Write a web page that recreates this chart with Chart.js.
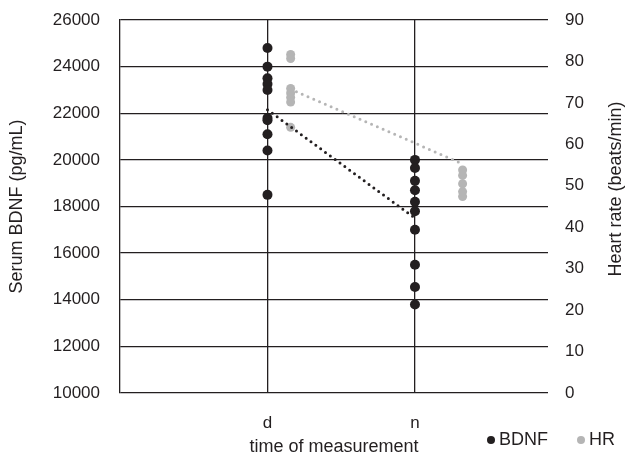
<!DOCTYPE html>
<html>
<head>
<meta charset="utf-8">
<script src="https://cdn.jsdelivr.net/npm/chart.js@4/dist/chart.umd.min.js"></script>
<style>
html,body{margin:0;padding:0;background:#fff;}
#wrap{width:625px;height:454px;position:relative;}
</style>
</head>
<body>
<div id="wrap"><canvas id="c" width="625" height="454"></canvas></div>
<script>
// ---- data ----
const timeLabels = ['d', 'n'];
const timeValues = [1, 2];
const hrTimeValues = [1.157, 2.323];
const bdnfDay = [24800, 24000, 23500, 23250, 23000, 21800, 21700, 21100, 20400, 18500];
const bdnfNight = [20000, 19650, 19100, 18700, 18200, 17800, 17000, 15500, 14550, 13800];
const hrDay = [81.7, 80.7, 73.5, 72.4, 71.3, 70.2, 64.1];
const hrNight = [53.8, 52.5, 50.5, 48.6, 47.4];
const bdnfMeans = [22150, 17500];
const hrMeans = [73.3, 55.3];
const bdnfTicks = [10000, 12000, 14000, 16000, 18000, 20000, 22000, 24000, 26000];
const hrTicks = [0, 10, 20, 30, 40, 50, 60, 70, 80, 90];
const seriesNames = ['BDNF', 'HR'];
const xTitle = 'time of measurement';
const yTitle = 'Serum BDNF (pg/mL)';
const y1Title = 'Heart rate (beats/min)';

// ---- styles ----
const INK = '#231f20';
const GREY = '#b5b5b5';
const FONT = '"Liberation Sans", Arial, sans-serif';

const pts = (xs, ys) => ys.map(v => ({x: xs, y: v}));
const bdnfPoints = [...pts(timeValues[0], bdnfDay), ...pts(timeValues[1], bdnfNight)];
const hrPoints = [...pts(hrTimeValues[0], hrDay), ...pts(hrTimeValues[1], hrNight)];
const bdnfMeanLine = bdnfMeans.map((v, i) => ({x: timeValues[i], y: v}));
const hrMeanLine = hrMeans.map((v, i) => ({x: hrTimeValues[i], y: v}));

const extras = {
  id: 'extras',
  afterDraw(chart) {
    const ctx = chart.ctx, a = chart.chartArea;
    ctx.save();
    ctx.fillStyle = INK;
    ctx.font = '18px ' + FONT;
    ctx.textBaseline = 'middle';
    // right axis title, reading bottom-to-top
    ctx.save();
    ctx.translate(a.right + 68, a.top + 169);
    ctx.rotate(-Math.PI / 2);
    ctx.textAlign = 'center';
    ctx.fillText(y1Title, 0, 0);
    ctx.restore();
    // legend
    const ly = a.bottom + 47;
    const items = [
      {name: seriesNames[0], color: INK, x: a.right - 57},
      {name: seriesNames[1], color: GREY, x: a.right + 33}
    ];
    ctx.textAlign = 'left';
    items.forEach(it => {
      ctx.beginPath();
      ctx.fillStyle = it.color;
      ctx.arc(it.x, ly, 4, 0, Math.PI * 2);
      ctx.fill();
      ctx.fillStyle = INK;
      ctx.fillText(it.name, it.x + 8, ly);
    });
    ctx.restore();
  }
};

Chart.defaults.font.family = FONT;
Chart.defaults.color = INK;

const fixVertical = w => s => { s.width = w; s.paddingTop = 0; s.paddingBottom = 0; };

new Chart(document.getElementById('c'), {
  type: 'scatter',
  data: {
    datasets: [
      {
        label: seriesNames[0] + ' mean',
        data: bdnfMeanLine,
        yAxisID: 'y',
        showLine: true,
        borderColor: INK,
        borderWidth: 3,
        borderDash: [0, 6],
        borderCapStyle: 'round',
        pointRadius: 0,
        fill: false
      },
      {
        label: seriesNames[0],
        data: bdnfPoints,
        yAxisID: 'y',
        backgroundColor: INK,
        borderColor: INK,
        borderWidth: 0,
        pointRadius: 5,
        pointHoverRadius: 5
      },
      {
        label: seriesNames[1] + ' mean',
        data: hrMeanLine,
        yAxisID: 'y1',
        showLine: true,
        borderColor: GREY,
        borderWidth: 3,
        borderDash: [0, 6.3],
        borderCapStyle: 'round',
        pointRadius: 0,
        fill: false
      },
      {
        label: seriesNames[1],
        data: hrPoints,
        yAxisID: 'y1',
        backgroundColor: GREY,
        borderColor: GREY,
        borderWidth: 0,
        pointRadius: 4.5,
        pointHoverRadius: 4.5
      }
    ]
  },
  options: {
    responsive: false,
    animation: false,
    devicePixelRatio: 1,
    layout: {padding: {top: 20, left: 0, right: 0, bottom: 0}},
    plugins: {legend: {display: false}, tooltip: {enabled: false}, title: {display: false}},
    scales: {
      x: {
        type: 'linear',
        min: 0,
        max: 2.902,
        afterBuildTicks: s => { s.ticks = timeValues.map(v => ({value: v})); },
        afterFit: s => { s.height = 61; s.paddingLeft = 0; s.paddingRight = 0; },
        ticks: {
          callback: v => timeLabels[timeValues.indexOf(v)] ?? '',
          font: {size: 17},
          padding: 20,
          maxRotation: 0,
          autoSkip: false
        },
        grid: {color: INK, lineWidth: 1.3, drawTicks: false},
        border: {display: false},
        title: {display: true, text: xTitle, font: {size: 18, lineHeight: 0.8}, padding: 0}
      },
      y: {
        position: 'left',
        min: 10000,
        max: 26000,
        afterBuildTicks: s => { s.ticks = bdnfTicks.map(v => ({value: v})); },
        afterFit: fixVertical(120),
        ticks: {font: {size: 17}, padding: 20, callback: v => String(v)},
        grid: {color: INK, lineWidth: 1.3, drawTicks: false},
        border: {display: true, color: INK, width: 1.3},
        title: {display: true, text: yTitle, font: {size: 18}, padding: {top: 6, bottom: 0}}
      },
      y1: {
        position: 'right',
        min: 0,
        max: 90,
        afterBuildTicks: s => { s.ticks = hrTicks.map(v => ({value: v})); },
        afterFit: fixVertical(77),
        ticks: {font: {size: 17}, padding: 17},
        grid: {display: false, drawTicks: false},
        border: {display: false}
      }
    }
  },
  plugins: [extras]
});
</script>
</body>
</html>
